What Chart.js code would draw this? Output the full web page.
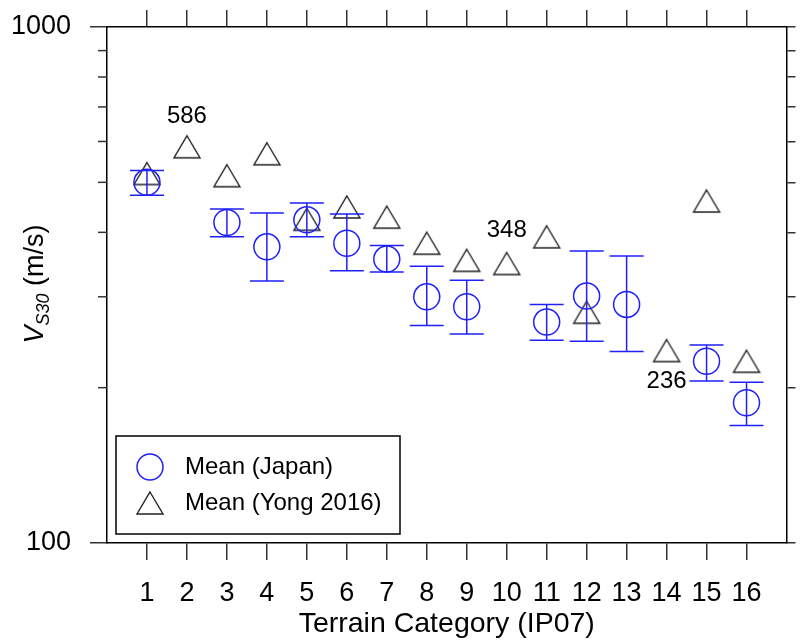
<!DOCTYPE html>
<html>
<head>
<meta charset="utf-8">
<script src="https://cdn.jsdelivr.net/npm/chart.js@4"></script>
<style>
  html, body { margin: 0; padding: 0; background: #fff; }
  canvas { display: block; }
</style>
</head>
<body>
<canvas id="myChart" width="801" height="641"></canvas>
<script>
// terrain categories (IP07)
var categories = [1, 2, 3, 4, 5, 6, 7, 8, 9, 10, 11, 12, 13, 14, 15, 16];
// mean Vs30 for Japan, with upper / lower ends of the error bars
var japanMean  = [500, null, 418, 375, 423, 381, 355, 300, 287, null, 268, 301, 290, null, 225, 187];
var japanUpper = [527, null, 444, 436, 456, 434, 377, 344, 323, null, 290, 368, 360, null, 242, 205];
var japanLower = [472, null, 392, 322, 392, 337, 335, 264, 254, null, 247, 246, 235, null, 206, 169];
// mean Vs30 from Yong 2016
var yongMean = [520, 586, 515, 568, 424, 448, 428, 381, 353, 348, 392, 280, null, 236, 460, 225];
// annotated Yong values
var noteCats = [2, 10, 14];
// y axis ticks
var yMajorTicks = [100, 1000];
var yMinorTicks = [200, 300, 400, 500, 600, 700, 800, 900];

var FONT = "'Liberation Sans', Arial, sans-serif";
var BLUE = "#2020ff";
var noteOffset = [-30, -33, 31];

function toPoints(vals) {
  var pts = [];
  for (var i = 0; i < categories.length; i++) {
    if (vals[i] !== null) pts.push({ x: categories[i], y: vals[i] });
  }
  return pts;
}

// triangle symbol centred on its bounding box
var tri = document.createElement("canvas");
tri.width = 30;
tri.height = 26;
(function () {
  var c = tri.getContext("2d");
  c.strokeStyle = "#222";
  c.lineWidth = 1.4;
  c.beginPath();
  c.moveTo(15, 2);
  c.lineTo(28, 24);
  c.lineTo(2, 24);
  c.closePath();
  c.stroke();
})();

var errorBars = {
  id: "errorBars",
  afterDatasetsDraw: function (chart) {
    var ctx = chart.ctx, xs = chart.scales.x, ys = chart.scales.y;
    ctx.save();
    ctx.strokeStyle = BLUE;
    ctx.lineWidth = 1.5;
    for (var i = 0; i < categories.length; i++) {
      if (japanMean[i] === null) continue;
      var px = xs.getPixelForValue(categories[i]);
      var top = ys.getPixelForValue(japanUpper[i]);
      var bot = ys.getPixelForValue(japanLower[i]);
      ctx.beginPath();
      ctx.moveTo(px, top); ctx.lineTo(px, bot);
      ctx.moveTo(px - 17, top); ctx.lineTo(px + 17, top);
      ctx.moveTo(px - 17, bot); ctx.lineTo(px + 17, bot);
      ctx.stroke();
    }
    ctx.restore();
  }
};

var notes = {
  id: "notes",
  afterDatasetsDraw: function (chart) {
    var ctx = chart.ctx, xs = chart.scales.x, ys = chart.scales.y;
    ctx.save();
    ctx.font = "24px " + FONT;
    ctx.fillStyle = "#000";
    ctx.textAlign = "center";
    ctx.textBaseline = "middle";
    noteCats.forEach(function (c, k) {
      var v = yongMean[categories.indexOf(c)];
      var px = xs.getPixelForValue(c);
      var py = ys.getPixelForValue(v);
      ctx.fillText(String(v), px, py + noteOffset[k]);
    });
    ctx.restore();
  }
};

var minorTicks = {
  id: "minorTicks",
  afterDraw: function (chart) {
    var ctx = chart.ctx, ys = chart.scales.y, a = chart.chartArea;
    ctx.save();
    ctx.strokeStyle = "#333";
    ctx.lineWidth = 1.5;
    yMinorTicks.forEach(function (v) {
      var py = ys.getPixelForValue(v);
      ctx.beginPath();
      ctx.moveTo(a.left - 9, py); ctx.lineTo(a.left, py);
      ctx.stroke();
    });
    ctx.restore();
  }
};

var yTitle = {
  id: "yTitle",
  afterDraw: function (chart) {
    var ctx = chart.ctx;
    var big = "27px " + FONT, bigIt = "italic 27px " + FONT, sub = "italic 18px " + FONT;
    ctx.save();
    ctx.translate(33, 284);
    ctx.rotate(-Math.PI / 2);
    ctx.fillStyle = "#000";
    ctx.textBaseline = "alphabetic";
    ctx.font = bigIt; var w1 = ctx.measureText("V").width;
    ctx.font = sub; var w2 = ctx.measureText("S30").width;
    ctx.font = big; var w3 = ctx.measureText(" (m/s)").width;
    var x = -(w1 + w2 + w3) / 2, base = 10;
    ctx.font = bigIt; ctx.fillText("V", x, base); x += w1;
    ctx.font = sub; ctx.fillText("S30", x, base + 6); x += w2;
    ctx.font = big; ctx.fillText(" (m/s)", x, base);
    ctx.restore();
  }
};

var legendBox = {
  id: "legendBox",
  afterDraw: function (chart) {
    var ctx = chart.ctx;
    ctx.save();
    ctx.fillStyle = "#fff";
    ctx.fillRect(116, 436, 284, 98);
    ctx.strokeStyle = "#000";
    ctx.lineWidth = 1.5;
    ctx.strokeRect(116, 436, 284, 98);
    chart.data.datasets.forEach(function (ds, i) {
      var y = 467 + i * 36;
      ctx.fillStyle = "rgba(0,0,0,0)";
      ctx.strokeStyle = ds.borderColor;
      ctx.lineWidth = ds.borderWidth;
      Chart.helpers.drawPoint(ctx, {
        pointStyle: ds.pointStyle, radius: ds.pointRadius,
        rotation: 0, borderWidth: ds.borderWidth
      }, 150, y);
      ctx.fillStyle = "#000";
      ctx.font = "24px " + FONT;
      ctx.textAlign = "left";
      ctx.textBaseline = "middle";
      ctx.fillText(ds.label, 185, y);
    });
    ctx.restore();
  }
};

function catTicks(scale) {
  scale.ticks = categories.map(function (c) { return { value: c }; });
}

var ctx = document.getElementById("myChart").getContext("2d");
var myChart = new Chart(ctx, {
  type: "scatter",
  data: {
    datasets: [
      {
        label: "Mean (Japan)",
        data: toPoints(japanMean),
        pointStyle: "circle",
        pointRadius: 13,
        borderColor: BLUE,
        backgroundColor: "rgba(0,0,0,0)",
        borderWidth: 1.5,
      },
      {
        label: "Mean (Yong 2016)",
        data: toPoints(yongMean),
        pointStyle: tri,
        pointRadius: 13,
        borderColor: "#222",
        backgroundColor: "rgba(0,0,0,0)",
        borderWidth: 1.4,
      },
    ],
  },
  options: {
    responsive: false,
    animation: false,
    layout: { padding: 0 },
    plugins: {
      legend: { display: false },
      tooltip: { enabled: false },
    },
    scales: {
      x: {
        type: "linear",
        position: "bottom",
        min: 0,
        max: 17,
        afterBuildTicks: catTicks,
        afterFit: function (s) { s.height = 98; },
        grid: { drawOnChartArea: false, tickLength: 17, color: "#333", lineWidth: 1.5 },
        border: { display: true, color: "#000", width: 1.5 },
        ticks: {
          autoSkip: false, maxRotation: 0, padding: 17, color: "#000",
          font: { family: FONT, size: 27 },
          callback: function (v) { return String(v); },
        },
        title: {
          display: true, text: "Terrain Category (IP07)", color: "#000",
          font: { family: FONT, size: 28.5 }, padding: { top: 0, bottom: 0 },
        },
      },
      xTop: {
        type: "linear",
        position: "top",
        min: 0,
        max: 17,
        afterBuildTicks: catTicks,
        afterFit: function (s) { s.height = 27; },
        grid: { drawOnChartArea: false, tickLength: 17, color: "#333", lineWidth: 1.5 },
        border: { display: true, color: "#000", width: 1.5 },
        ticks: { display: false },
      },
      y: {
        type: "logarithmic",
        position: "left",
        min: 100,
        max: 1000,
        afterBuildTicks: function (s) {
          s.ticks = yMajorTicks.map(function (v) { return { value: v }; });
        },
        afterFit: function (s) { s.width = 107; },
        grid: { drawOnChartArea: false, tickLength: 17, color: "#333", lineWidth: 1.5 },
        border: { display: true, color: "#000", width: 1.5 },
        ticks: {
          padding: 19, color: "#000",
          font: { family: FONT, size: 27, lineHeight: 0.5 },
          callback: function (v) { return String(v); },
        },
      },
      yRight: {
        type: "logarithmic",
        position: "right",
        min: 100,
        max: 1000,
        afterBuildTicks: function (s) {
          s.ticks = yMajorTicks.concat(yMinorTicks).map(function (v) { return { value: v }; });
        },
        afterFit: function (s) { s.width = 7; },
        grid: { drawOnChartArea: false, tickLength: 9, color: "#333", lineWidth: 1.5 },
        border: { display: true, color: "#000", width: 1.5 },
        ticks: { display: false },
      },
    },
  },
  plugins: [errorBars, notes, minorTicks, yTitle, legendBox],
});
</script>
</body>
</html>
